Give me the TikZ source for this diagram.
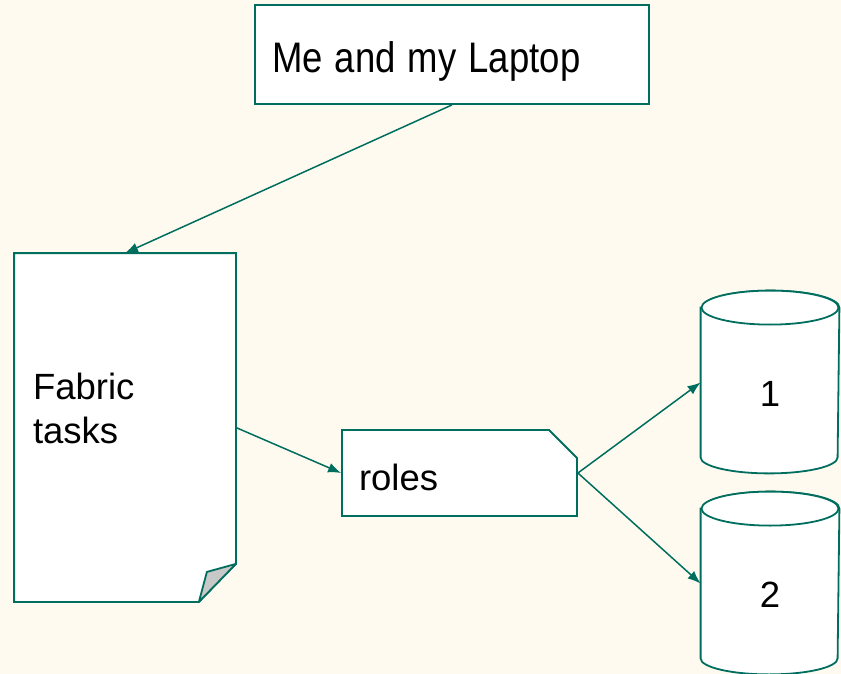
\documentclass[tikz,border=0pt]{standalone}
\usepackage{fontspec}
\setmainfont{Liberation Sans}
\usetikzlibrary{arrows.meta,shapes.misc,backgrounds}
\definecolor{paper}{RGB}{254,250,239}
\definecolor{teal}{RGB}{0,110,95}
\definecolor{flap}{RGB}{200,200,200}
\tikzset{
  box/.style={draw=teal, line width=1.8pt, fill=white, align=left,
    font=\fontsize{36.5}{44}\selectfont},
  roll/.style={box, draw=none, fill=none, minimum width=137pt, minimum height=148pt,
    align=center, text height=47pt, text depth=0pt},
  rim/.style={draw=teal, line width=1.8pt, fill=white},
  link/.style={draw=teal, line width=1.5pt, -{Latex[length=13pt,width=10pt]}},
}
\begin{document}
\begin{tikzpicture}[x=1pt,y=-1pt]
  \begin{pgfonlayer}{background}
    \fill[paper] (0,0) rectangle (841,674);
  \end{pgfonlayer}
  \useasboundingbox (0,0) rectangle (841,674);

  \node[box, minimum width=394pt, minimum height=99pt, inner xsep=17pt, text width=360pt,
        text height=46pt, text depth=9pt] (laptop) at (452,54.5) {\scalebox{1}[1.17]{Me and my Laptop}};

  % document with folded corner
  \node[box, draw=none, fill=none, minimum width=220pt, minimum height=347pt, inner xsep=18pt,
        text width=184pt, text depth=83pt] (fabric) at (125,427.5) {Fabric\\tasks};
  \begin{pgfonlayer}{background}
    \draw[rim] (fabric.north west) -- (fabric.north east)
      -- ([shift={(0,-38)}]fabric.south east) -- ([shift={(-37,0)}]fabric.south east)
      -- (fabric.south west) -- cycle;
  \end{pgfonlayer}
  \draw[rim, fill=flap, line join=round] ([shift={(0,-38)}]fabric.south east)
    -- ([shift={(-29,-30)}]fabric.south east) -- ([shift={(-37,0)}]fabric.south east) -- cycle;

  \node[box, chamfered rectangle, chamfered rectangle corners=north east,
        chamfered rectangle xsep=14pt, chamfered rectangle ysep=14pt, inner xsep=3pt,
        minimum height=86pt, text width=201pt, text height=34pt, text depth=0pt] (roles) at (459.5,473) {roles};

  % disks
  \node[roll] (disk1) at (770,382.5) {1};
  \node[roll] (disk2) at (770,583.5) {2};
  \begin{pgfonlayer}{background}
    \foreach \d in {disk1,disk2}{
      \draw[rim] (\d.north west) -- (\d.south west)
        arc[start angle=180, end angle=360, x radius=68.5pt, y radius=16pt]
        -- (\d.north east)
        arc[start angle=0, end angle=180, x radius=68.5pt, y radius=17pt] -- cycle;
      \draw[rim] (\d.north) ellipse[x radius=68.5pt, y radius=17pt];
    }
  \end{pgfonlayer}

  \draw[link] (laptop.south) -- (fabric.north);
  \draw[link] (fabric.east) -- (roles.west);
  \draw[link] (roles.east) -- (disk1.west);
  \draw[link] (roles.east) -- (disk2.west);
\end{tikzpicture}
\end{document}
